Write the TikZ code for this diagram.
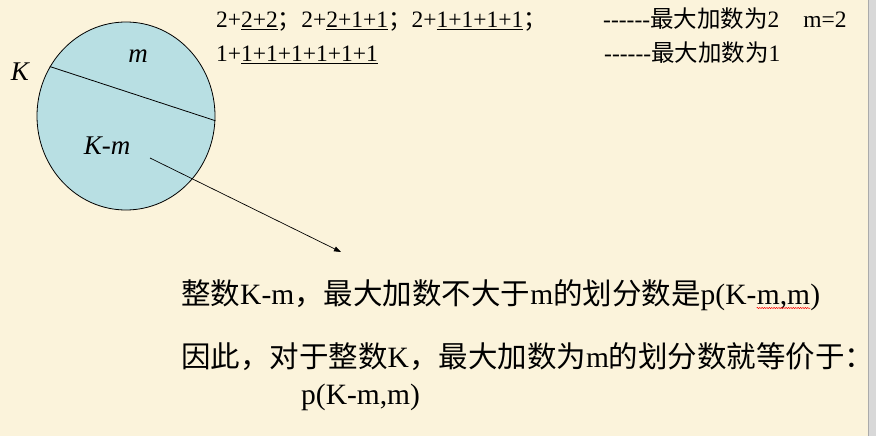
\documentclass[tikz,border=0pt]{standalone}
\usepackage{fontspec}
\setmainfont{Liberation Serif}
\newfontfamily\cjk{Noto Sans CJK SC}
\usetikzlibrary{arrows.meta,shapes.geometric,decorations.pathmorphing}
\definecolor{bgcream}{RGB}{251,243,219}
\definecolor{discblue}{RGB}{184,223,227}
\definecolor{edgegrey}{RGB}{216,216,216}
\definecolor{edgeline}{RGB}{170,170,170}
\begin{document}
\begin{tikzpicture}[x=1pt,y=-1pt,
  disc/.style={ellipse,draw=black,line width=0.8pt,fill=discblue,inner sep=0pt,minimum width=178pt,minimum height=188pt},
  lbl/.style={font=\fontsize{27}{27}\selectfont\itshape,inner sep=0pt},
  topline/.style={anchor=base west,inner sep=0pt,font=\fontsize{23.5}{24}\selectfont},
  bigline/.style={anchor=base west,inner sep=0pt,font=\fontsize{29.5}{30}\selectfont},
  pointer/.style={line width=0.7pt,-{Triangle[length=7pt,width=5pt]}},
  wavy/.style={red,line width=0.5pt,decorate,decoration={snake,amplitude=0.6pt,segment length=2.4pt}}]
\fill[bgcream] (0,0) rectangle (876,436);
\useasboundingbox (0,0) rectangle (876,436);
\fill[edgegrey] (868,0) rectangle (876,436);
\draw[edgeline,line width=0.8pt] (868,0) -- (868,436);

% disc
\node[disc] (circ) at (126,116) {};
\draw[line width=0.8pt] (circ.147.6) -- (circ.-3.2);
\node[lbl] (klab) at (20,72) {K};
\node[lbl] (mlab) at (138,56) {m};
\node[lbl] (kmlab) at (107,146) {K-m};

% pointer
\coordinate (arrS) at (150,158);
\coordinate (arrE) at (341,252);
\draw[pointer] (arrS) -- (arrE);

% top lines
\node[topline] (t1) at (216,28) {2+\underline{2+2}{\cjk ；}2+\underline{2+1+1}{\cjk ；}2+\underline{1+1+1+1}{\cjk ；}};
\node[topline] (t1r) at (603,28) {-{}-{}-{}-{}-{}-{\cjk 最大加数为}2\hspace{24pt}m=2};
\node[topline] (t2) at (216,62) {1+\underline{1+1+1+1+1+1}};
\node[topline] (t2r) at (604,62) {-{}-{}-{}-{}-{}-{\cjk 最大加数为}1};

% bottom lines
\node[bigline] (a1) at (181,304) {{\cjk 整数}K-m{\cjk ，最大加数不大于}m{\cjk 的划分数是}p(K-};
\node[bigline] (a2) at (a1.base east) {m,m};
\node[bigline] (a3) at (a2.base east) {)};
\draw[wavy] ([yshift=-4pt]a2.base west) -- ([yshift=-4pt]a2.base east);
\node[bigline] (b1) at (181,367) {{\cjk 因此，对于整数}K{\cjk ，最大加数为}m{\cjk 的划分数就等价于：}};
\node[bigline] (c1) at (301,404) {p(K-m,m)};
\end{tikzpicture}
\end{document}
